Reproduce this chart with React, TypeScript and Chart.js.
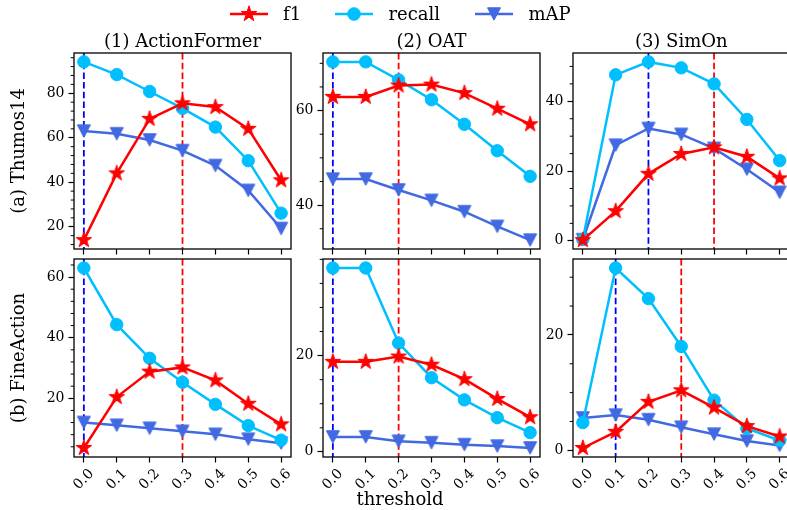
import React, { useEffect, useRef } from 'react';
import { Chart, registerables } from 'chart.js';
Chart.register(...registerables);

// ---------------- data ----------------
const thresholds = [0, 0.1, 0.2, 0.3, 0.4, 0.5, 0.6];
const xTickLabels = ['0.0', '0.1', '0.2', '0.3', '0.4', '0.5', '0.6'];
const seriesNames = ['f1', 'recall', 'mAP'];
const methodTitles = ['(1) ActionFormer', '(2) OAT', '(3) SimOn'];
const datasetLabels = ['(a) Thumos14', '(b) FineAction'];
const xAxisLabel = 'threshold';

// Thumos14
const f1_AF_T = [14, 44, 68.5, 75.5, 73.8, 64, 40.9];
const recall_AF_T = [94.1, 88.4, 80.8, 73.2, 64.8, 49.7, 26.1];
const map_AF_T = [63, 61.8, 59, 54.2, 47.5, 36.3, 19.2];

const f1_OAT_T = [62.9, 62.9, 65.3, 65.5, 63.7, 60.4, 57.1];
const recall_OAT_T = [70.3, 70.3, 66.5, 62.3, 57.1, 51.5, 46.1];
const map_OAT_T = [45.5, 45.5, 43.2, 41.0, 38.6, 35.5, 32.6];

const f1_SimOn_T = [0.2, 8.5, 19.2, 24.9, 26.8, 24.1, 17.9];
const recall_SimOn_T = [0.4, 47.6, 51.3, 49.6, 45.0, 34.8, 23.0];
const map_SimOn_T = [0.3, 27.4, 32.2, 30.5, 26.5, 20.5, 13.9];

// FineAction
const f1_AF_F = [3.6, 20.4, 28.8, 30.2, 25.9, 18.2, 11.4];
const recall_AF_F = [63.0, 44.3, 33.2, 25.3, 18.0, 11.0, 6.2];
const map_AF_F = [12.0, 11.1, 10.1, 9.1, 8.1, 6.5, 5.2];

const f1_OAT_F = [18.7, 18.7, 19.8, 18.1, 15.1, 11.0, 7.2];
const recall_OAT_F = [38.2, 38.2, 22.6, 15.4, 10.8, 7.1, 4.0];
const map_OAT_F = [3.1, 3.1, 2.2, 1.9, 1.5, 1.2, 0.8];

const f1_SimOn_F = [0.4, 3.2, 8.4, 10.4, 7.4, 4.2, 2.4];
const recall_SimOn_F = [4.8, 31.6, 26.3, 18.0, 8.7, 3.8, 1.7];
const map_SimOn_F = [5.6, 6.1, 5.3, 4.0, 2.8, 1.6, 0.85];

// y tick labels per panel
const yTicks_AF_T = [20, 40, 60, 80];
const yTicks_OAT_T = [40, 60];
const yTicks_SimOn_T = [0, 20, 40];
const yTicks_AF_F = [20, 40, 60];
const yTicks_OAT_F = [0, 20];
const yTicks_SimOn_F = [0, 20];

// minor tick step per panel
const minorSteps = [4, 5, 5, 4, 5, 5];

// best thresholds (vertical dashed lines)
const bestRecallX = [0, 0, 0.2, 0, 0, 0.1];
const bestF1X = [0.3, 0.2, 0.4, 0.3, 0.2, 0.3];

// ---------------- style / layout ----------------
const SERIF = "'DejaVu Serif', serif";
const COLORS = { f1: '#ff0000', recall: '#00bfff', map: '#4169e1' };
const CANVAS_W = 800;
const CANVAS_H = 510;
const COL_LEFT = [74, 323, 573];
const COL_RIGHT = [291, 540, 790];
const ROW_TOP = [53, 259];
const ROW_BOTTOM = [249, 457];
const Y_AXIS_W = 45;
const X_AXIS_H = 10;
const TICK_LEN = 5.5;
const TICK_FONT = 14;
const LABEL_FONT = 18;

function starPath(g: CanvasRenderingContext2D, cx: number, cy: number, R: number) {
  const r = R * 0.381966;
  g.beginPath();
  for (let i = 0; i < 10; i++) {
    const ang = -Math.PI / 2 + (i * Math.PI) / 5;
    const rad = i % 2 === 0 ? R : r;
    const px = cx + rad * Math.cos(ang);
    const py = cy + rad * Math.sin(ang);
    if (i === 0) g.moveTo(px, py);
    else g.lineTo(px, py);
  }
  g.closePath();
}
function triDownPath(g: CanvasRenderingContext2D, cx: number, cy: number, hw: number, hh: number) {
  g.beginPath();
  g.moveTo(cx - hw, cy - hh);
  g.lineTo(cx + hw, cy - hh);
  g.lineTo(cx, cy + hh);
  g.closePath();
}
function makeMarker(kind: 'star' | 'tri', color: string) {
  const s = 22;
  const c = document.createElement('canvas');
  c.width = s;
  c.height = s;
  const g = c.getContext('2d')!;
  if (kind === 'star') starPath(g, s / 2, s / 2, 8.2);
  else triDownPath(g, s / 2, s / 2, 6.5, 6.2);
  g.fillStyle = color;
  g.fill();
  g.lineWidth = 1;
  g.strokeStyle = color;
  g.stroke();
  return c;
}

type Panel = {
  row: number;
  col: number;
  f1: number[];
  recall: number[];
  map: number[];
  yTicks: number[];
  minor: number;
  blue: number;
  red: number;
};

const PANELS: Panel[] = [
  { row: 0, col: 0, f1: f1_AF_T, recall: recall_AF_T, map: map_AF_T, yTicks: yTicks_AF_T, minor: minorSteps[0], blue: bestRecallX[0], red: bestF1X[0] },
  { row: 0, col: 1, f1: f1_OAT_T, recall: recall_OAT_T, map: map_OAT_T, yTicks: yTicks_OAT_T, minor: minorSteps[1], blue: bestRecallX[1], red: bestF1X[1] },
  { row: 0, col: 2, f1: f1_SimOn_T, recall: recall_SimOn_T, map: map_SimOn_T, yTicks: yTicks_SimOn_T, minor: minorSteps[2], blue: bestRecallX[2], red: bestF1X[2] },
  { row: 1, col: 0, f1: f1_AF_F, recall: recall_AF_F, map: map_AF_F, yTicks: yTicks_AF_F, minor: minorSteps[3], blue: bestRecallX[3], red: bestF1X[3] },
  { row: 1, col: 1, f1: f1_OAT_F, recall: recall_OAT_F, map: map_OAT_F, yTicks: yTicks_OAT_F, minor: minorSteps[4], blue: bestRecallX[4], red: bestF1X[4] },
  { row: 1, col: 2, f1: f1_SimOn_F, recall: recall_SimOn_F, map: map_SimOn_F, yTicks: yTicks_SimOn_F, minor: minorSteps[5], blue: bestRecallX[5], red: bestF1X[5] },
];

const decoPlugin = {
  id: 'deco',
  beforeDatasetsDraw(chart: any, _args: any, opts: any) {
    const { ctx, chartArea: a, scales } = chart;
    const x = scales.x;
    ctx.save();
    ctx.beginPath();
    ctx.rect(a.left, a.top, a.right - a.left, a.bottom - a.top);
    ctx.clip();
    ctx.lineWidth = 1.8;
    ctx.setLineDash([6.5, 3.2]);
    const lines = [
      { v: opts.blue, c: '#0000ff' },
      { v: opts.red, c: '#ff0000' },
    ];
    for (const l of lines) {
      const px = x.getPixelForValue(l.v);
      ctx.strokeStyle = l.c;
      ctx.beginPath();
      ctx.moveTo(px, a.top);
      ctx.lineTo(px, a.bottom);
      ctx.stroke();
    }
    ctx.restore();
  },
  afterDraw(chart: any, _args: any, opts: any) {
    const { ctx, chartArea: a, scales } = chart;
    const x = scales.x;
    const y = scales.y;
    ctx.save();
    // frame
    ctx.strokeStyle = '#000';
    ctx.lineWidth = 1.3;
    ctx.strokeRect(a.left, a.top, a.right - a.left, a.bottom - a.top);
    // minor y ticks
    ctx.lineWidth = 1;
    const step = opts.minor;
    for (let v = Math.ceil(y.min / step) * step; v <= y.max; v += step) {
      if (opts.yTicks.some((t: number) => Math.abs(t - v) < 1e-9)) continue;
      const py = y.getPixelForValue(v);
      ctx.beginPath();
      ctx.moveTo(a.left - 3.3, py);
      ctx.lineTo(a.left, py);
      ctx.stroke();
    }
    // title
    ctx.fillStyle = '#000';
    if (opts.title) {
      ctx.font = `${LABEL_FONT}px ${SERIF}`;
      ctx.textAlign = 'center';
      ctx.textBaseline = 'alphabetic';
      ctx.fillText(opts.title, (a.left + a.right) / 2, a.top - 6);
    }
    // rotated x tick labels
    if (opts.xLabels) {
      ctx.font = `${TICK_FONT}px ${SERIF}`;
      ctx.textAlign = 'center';
      ctx.textBaseline = 'middle';
      thresholds.forEach((t, i) => {
        const lbl = xTickLabels[i];
        const px = x.getPixelForValue(t);
        const w = ctx.measureText(lbl).width;
        const h = TICK_FONT * 1.15;
        const H = (w + h) * Math.SQRT1_2;
        const cy = a.bottom + TICK_LEN + 3.5 + H / 2;
        ctx.save();
        ctx.translate(px, cy);
        ctx.rotate(-Math.PI / 4);
        ctx.fillText(lbl, 0, 0);
        ctx.restore();
      });
    }
    // figure-level text (legend, row labels, x label)
    if (opts.figure) {
      const items = [
        { name: seriesNames[0], color: COLORS.f1, kind: 'star', x0: 230, tx: 283 },
        { name: seriesNames[1], color: COLORS.recall, kind: 'circle', x0: 335, tx: 388.5 },
        { name: seriesNames[2], color: COLORS.map, kind: 'tri', x0: 475, tx: 528.5 },
      ];
      const ly = 14;
      for (const it of items) {
        ctx.strokeStyle = it.color;
        ctx.fillStyle = it.color;
        ctx.lineWidth = 2.5;
        ctx.setLineDash([]);
        ctx.beginPath();
        ctx.moveTo(it.x0, ly);
        ctx.lineTo(it.x0 + 38, ly);
        ctx.stroke();
        const cx = it.x0 + 19;
        ctx.lineWidth = 1;
        if (it.kind === 'star') starPath(ctx, cx, ly, 8.2);
        else if (it.kind === 'tri') triDownPath(ctx, cx, ly, 6.5, 6.2);
        else {
          ctx.beginPath();
          ctx.arc(cx, ly, 6.3, 0, Math.PI * 2);
        }
        ctx.fill();
        ctx.stroke();
        ctx.fillStyle = '#000';
        ctx.font = `${LABEL_FONT}px ${SERIF}`;
        ctx.textAlign = 'left';
        ctx.textBaseline = 'middle';
        ctx.fillText(it.name, it.tx, ly + 1);
      }
      ctx.fillStyle = '#000';
      ctx.font = `${LABEL_FONT}px ${SERIF}`;
      ctx.textAlign = 'center';
      ctx.textBaseline = 'middle';
      const rowCenters = [(ROW_TOP[0] + ROW_BOTTOM[0]) / 2, (ROW_TOP[1] + ROW_BOTTOM[1]) / 2];
      datasetLabels.forEach((lbl, i) => {
        ctx.save();
        ctx.translate(19, rowCenters[i]);
        ctx.rotate(-Math.PI / 2);
        ctx.fillText(lbl, 0, 0);
        ctx.restore();
      });
      ctx.textBaseline = 'alphabetic';
      ctx.fillText(xAxisLabel, 400, 504.5);
    }
    ctx.restore();
  },
};

function yLimits(p: Panel) {
  const all = [...p.f1, ...p.recall, ...p.map];
  const lo = Math.min(...all);
  const hi = Math.max(...all);
  const pad = (hi - lo) * 0.05;
  return { min: lo - pad, max: hi + pad };
}

function buildConfig(p: Panel, idx: number, markers: any) {
  const { min, max } = yLimits(p);
  const toPts = (arr: number[]) => arr.map((v, i) => ({ x: thresholds[i], y: v }));
  const left = COL_LEFT[p.col];
  const right = COL_RIGHT[p.col];
  const top = ROW_TOP[p.row];
  const bottom = ROW_BOTTOM[p.row];
  const gridOpts = {
    display: true,
    drawOnChartArea: false,
    drawTicks: true,
    tickLength: TICK_LEN,
    tickWidth: 1.2,
    tickColor: '#000',
    color: 'rgba(0,0,0,0)',
  };
  return {
    type: 'line',
    data: {
      datasets: [
        {
          label: seriesNames[0],
          data: toPts(p.f1),
          borderColor: COLORS.f1,
          backgroundColor: COLORS.f1,
          borderWidth: 2.5,
          pointStyle: markers.star,
          pointRadius: 8,
          tension: 0,
        },
        {
          label: seriesNames[1],
          data: toPts(p.recall),
          borderColor: COLORS.recall,
          backgroundColor: COLORS.recall,
          borderWidth: 2.5,
          pointStyle: 'circle',
          pointRadius: 6.2,
          pointBorderWidth: 1,
          tension: 0,
        },
        {
          label: seriesNames[2],
          data: toPts(p.map),
          borderColor: COLORS.map,
          backgroundColor: COLORS.map,
          borderWidth: 2.5,
          pointStyle: markers.tri,
          pointRadius: 7,
          tension: 0,
        },
      ],
    },
    options: {
      responsive: false,
      animation: false,
      devicePixelRatio: 1,
      events: [],
      layout: {
        padding: {
          left: left - Y_AXIS_W,
          top: top,
          right: CANVAS_W - right,
          bottom: CANVAS_H - bottom - X_AXIS_H,
        },
      },
      scales: {
        x: {
          type: 'linear',
          min: -0.03,
          max: 0.63,
          afterBuildTicks: (s: any) => {
            s.ticks = thresholds.map((v) => ({ value: v }));
          },
          afterFit: (s: any) => {
            s.height = X_AXIS_H;
          },
          ticks: { display: false },
          grid: gridOpts,
          border: { display: false },
        },
        y: {
          type: 'linear',
          min,
          max,
          afterBuildTicks: (s: any) => {
            s.ticks = p.yTicks.map((v) => ({ value: v }));
          },
          afterFit: (s: any) => {
            s.width = Y_AXIS_W;
          },
          ticks: {
            display: true,
            color: '#000',
            padding: 4,
            font: { family: SERIF, size: TICK_FONT },
            callback: (v: any) => String(v),
          },
          grid: gridOpts,
          border: { display: false },
        },
      },
      plugins: {
        legend: { display: false },
        tooltip: { enabled: false },
        deco: {
          title: p.row === 0 ? methodTitles[p.col] : null,
          xLabels: p.row === 1,
          figure: idx === 0,
          blue: p.blue,
          red: p.red,
          minor: p.minor,
          yTicks: p.yTicks,
        },
      },
    },
    plugins: [decoPlugin],
  };
}

export default function App() {
  const refs = useRef<(HTMLCanvasElement | null)[]>([]);
  useEffect(() => {
    const markers = { star: makeMarker('star', COLORS.f1), tri: makeMarker('tri', COLORS.map) };
    const charts = PANELS.map((p, i) => new Chart(refs.current[i] as HTMLCanvasElement, buildConfig(p, i, markers) as any));
    return () => charts.forEach((c) => c.destroy());
  }, []);
  return (
    <div style={{ position: 'absolute', left: 0, top: 0, width: 787, height: 510, overflow: 'hidden', background: '#fff' }}>
      {PANELS.map((_, i) => (
        <canvas
          key={i}
          ref={(el) => {
            refs.current[i] = el;
          }}
          width={CANVAS_W}
          height={CANVAS_H}
          style={{ position: 'absolute', left: 0, top: 0, width: CANVAS_W, height: CANVAS_H }}
        />
      ))}
    </div>
  );
}
